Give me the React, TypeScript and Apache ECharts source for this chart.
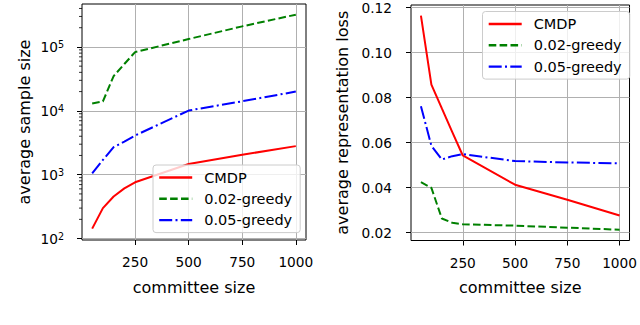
import React, { useEffect, useRef } from 'react';
import * as echarts from 'echarts';

const committeeSizes = [50, 100, 150, 200, 250, 500, 750, 1000];

const sampleCMDP = [143, 300, 455, 610, 760, 1470, 2050, 2800];
const sampleGreedy002 = [13000, 14000, 35000, 54000, 83000, 133000, 210000, 320000];
const sampleGreedy005 = [1050, 1700, 2700, 3300, 4100, 10100, 14100, 20000];

const lossCMDP = [0.1165, 0.0858, 0.0752, 0.0647, 0.0543, 0.0413, 0.0346, 0.0276];
const lossGreedy002 = [0.0424, 0.0399, 0.0263, 0.0244, 0.0237, 0.0231, 0.0222, 0.0213];
const lossGreedy005 = [0.0762, 0.0586, 0.0525, 0.054, 0.0549, 0.0518, 0.0512, 0.0508];

const seriesNames = ['CMDP', '0.02-greedy', '0.05-greedy'];
const xTicks = [250, 500, 750, 1000];
const sampleTicks = [100, 1000, 10000, 100000];
const sampleMinorTicks = [
  200, 300, 400, 500, 600, 700, 800, 900,
  2000, 3000, 4000, 5000, 6000, 7000, 8000, 9000,
  20000, 30000, 40000, 50000, 60000, 70000, 80000, 90000,
  200000, 300000, 400000,
];
const lossTicks = [0.02, 0.04, 0.06, 0.08, 0.1, 0.12];

const FONT = 'DejaVu Sans';
const X_MIN = 2.5;
const X_MAX = 1047.5;

function zip(xs: number[], ys: number[]) {
  return xs.map((x, i) => [x, ys[i]]);
}

export default function App() {
  const ref = useRef<HTMLDivElement>(null);

  useEffect(() => {
    if (!ref.current) return;
    const chart = echarts.init(ref.current, undefined, { renderer: 'svg' });

    const colors = ['#ff0000', '#008000', '#0000ff'];
    const dashes: any[] = ['solid', [7.6, 3.3], [13, 3.3, 2, 3.3]];

    const xAxisBase = (gridIndex: number) => ({
      type: 'value',
      gridIndex,
      min: X_MIN,
      max: X_MAX,
      name: 'committee size',
      nameLocation: 'middle',
      nameGap: 39,
      nameTextStyle: { fontFamily: FONT, fontSize: 16, color: '#000' },
      axisLine: { show: false },
      axisTick: { show: true, length: 5, customValues: xTicks, lineStyle: { color: '#000', width: 1 } },
      axisLabel: {
        customValues: xTicks,
        fontFamily: FONT,
        fontSize: 13.7,
        color: '#000',
        margin: 15,
        formatter: (v: number) => String(v),
      },
      splitLine: { show: true, lineStyle: { color: '#b0b0b0', width: 1 } },
    });

    const lineSeries = (names: string[], datas: number[][], axisIndex: number) =>
      names.map((name, i) => ({
        name,
        type: 'line',
        xAxisIndex: axisIndex,
        yAxisIndex: axisIndex,
        data: zip(committeeSizes, datas[i]),
        symbol: 'none',
        showSymbol: false,
        clip: true,
        lineStyle: { color: colors[i], width: 2, type: dashes[i] },
        itemStyle: { color: colors[i] },
        z: 3,
      }));

    const legendBase = (left: number, top: number) => ({
      orient: 'vertical',
      left,
      top,
      data: seriesNames,
      itemWidth: 33,
      itemHeight: 14,
      itemGap: 6.3,
      padding: [5, 8, 5, 5],
      backgroundColor: 'rgba(255,255,255,0.8)',
      borderColor: '#cccccc',
      borderWidth: 1,
      borderRadius: 3,
      itemStyle: { opacity: 0, borderWidth: 0 },
      lineStyle: { width: 2.4 },
      textStyle: { fontFamily: FONT, fontSize: 14.5, color: '#000', padding: [0, 0, 0, 7] },
      selectedMode: false,
    });

    const option: any = {
      animation: false,
      backgroundColor: '#ffffff',
      grid: [
        { left: 82, top: 4, width: 224, height: 236, show: true, borderColor: '#000', borderWidth: 1, backgroundColor: 'transparent' },
        { left: 411, top: 5, width: 223, height: 235.5, show: true, borderColor: '#000', borderWidth: 1, backgroundColor: 'transparent' },
      ],
      legend: [legendBase(153, 165), legendBase(482.5, 11.5)],
      xAxis: [xAxisBase(0), xAxisBase(1)],
      yAxis: [
        {
          type: 'log',
          gridIndex: 0,
          logBase: 10,
          min: 95,
          max: 470000,
          name: 'average sample size',
          nameLocation: 'middle',
          nameGap: 50,
          nameTextStyle: { fontFamily: FONT, fontSize: 16, color: '#000' },
          axisLine: { show: false },
          axisTick: { show: true, length: 5, customValues: sampleTicks, lineStyle: { color: '#000', width: 1 } },
          axisLabel: {
            customValues: sampleTicks,
            margin: 18,
            formatter: (v: number) => '{b|10}{s|' + Math.round(Math.log10(v)) + '}',
            rich: {
              b: { fontFamily: FONT, fontSize: 13.7, color: '#000' },
              s: { fontFamily: FONT, fontSize: 9.6, color: '#000', verticalAlign: 'top', lineHeight: 10 },
            },
          },
          splitLine: { show: true, lineStyle: { color: '#b0b0b0', width: 1 } },
        },
        {
          type: 'value',
          gridIndex: 1,
          min: 0.0165,
          max: 0.1212,
          name: 'average representation loss',
          nameLocation: 'middle',
          nameGap: 61,
          nameTextStyle: { fontFamily: FONT, fontSize: 16, color: '#000' },
          axisLine: { show: false },
          axisTick: { show: true, length: 5, customValues: lossTicks, lineStyle: { color: '#000', width: 1 } },
          axisLabel: {
            customValues: lossTicks,
            margin: 19,
            fontFamily: FONT,
            fontSize: 13.7,
            color: '#000',
            formatter: (v: number) => v.toFixed(2),
          },
          splitLine: { show: true, lineStyle: { color: '#b0b0b0', width: 1 } },
        },
      ],
      series: [
        ...lineSeries(seriesNames, [sampleCMDP, sampleGreedy002, sampleGreedy005], 0),
        ...lineSeries(seriesNames, [lossCMDP, lossGreedy002, lossGreedy005], 1),
        {
          type: 'custom',
          xAxisIndex: 0,
          yAxisIndex: 0,
          silent: true,
          clip: false,
          z: 5,
          data: sampleMinorTicks.map((v) => [X_MIN, v]),
          renderItem: (_params: any, api: any) => {
            const p = api.coord([api.value(0), api.value(1)]);
            return {
              type: 'line',
              shape: { x1: p[0] - 3, y1: p[1], x2: p[0], y2: p[1] },
              style: { stroke: '#000', lineWidth: 0.8 },
            };
          },
        },
      ],
    };

    chart.setOption(option);
    return () => chart.dispose();
  }, []);

  return (
    <div
      ref={ref}
      style={{ position: 'fixed', left: 0, top: 0, width: 640, height: 325, background: '#fff' }}
    />
  );
}
